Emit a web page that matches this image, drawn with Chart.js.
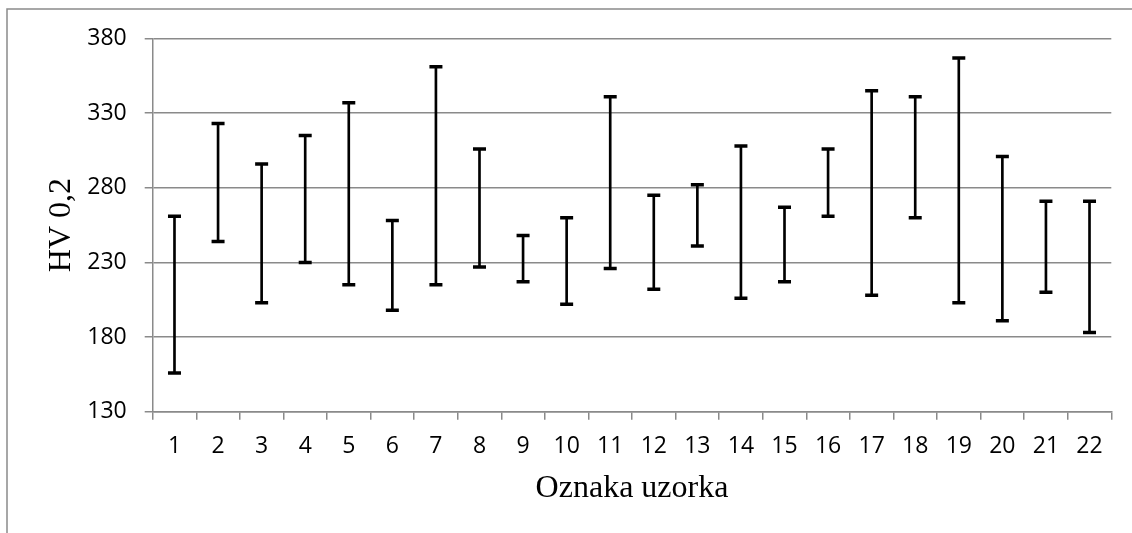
<!DOCTYPE html>
<html>
<head>
<meta charset="utf-8">
<title>HV 0,2</title>
<script src="https://cdn.jsdelivr.net/npm/chart.js@4/dist/chart.umd.min.js"></script>
<style>
    body { margin: 0; background: #fff; }
    #hvChart { display: block; }
</style>
</head>
<body>
<canvas id="hvChart" width="1132" height="533"></canvas>
<script>
// Oznake uzoraka i izmjerene tvrdoće (min / max)
var uzorci = ['1', '2', '3', '4', '5', '6', '7', '8', '9', '10', '11',
    '12', '13', '14', '15', '16', '17', '18', '19', '20', '21', '22'];
var hvMin = [156, 244, 203, 230, 215, 198, 215, 227, 217, 202, 226,
    212, 241, 206, 217, 261, 208, 260, 203, 191, 210, 183];
var hvMax = [261, 323, 296, 315, 337, 258, 361, 306, 248, 260, 341,
    275, 282, 308, 267, 306, 345, 341, 367, 301, 271, 271];
var yTicks = [130, 180, 230, 280, 330, 380];

var sivaLinija = '#8a8a8a';

// Okvir oko cijelog grafikona
var okvirPlugin = {
    id: 'okvir',
    beforeDraw: function (chart) {
        var ctx = chart.ctx;
        ctx.save();
        ctx.strokeStyle = sivaLinija;
        ctx.lineWidth = 1.5;
        ctx.strokeRect(7, 9, 1200, 700);
        ctx.restore();
    }
};

// Raspon min-max kao tanki stupac + kratke crtice na krajevima
var rasponi = hvMin.map(function (v, i) { return [v, hvMax[i]]; });

var hvConfig = {
    type: 'bar',
    data: {
        labels: uzorci,
        datasets: [{
            data: rasponi,
            backgroundColor: '#000',
            borderWidth: 0,
            barThickness: 2
        }, {
            type: 'line',
            data: hvMax,
            showLine: false,
            pointStyle: 'line',
            pointRadius: 6.5,
            pointBorderWidth: 3.5,
            borderColor: '#000'
        }, {
            type: 'line',
            data: hvMin,
            showLine: false,
            pointStyle: 'line',
            pointRadius: 6.5,
            pointBorderWidth: 3.5,
            borderColor: '#000'
        }]
    },
    options: {
        responsive: false,
        animation: false,
        events: [],
        layout: { padding: { left: 0, top: 38.5, right: 20.7, bottom: 0 } },
        plugins: { legend: { display: false }, tooltip: { enabled: false } },
        scales: {
            x: {
                afterFit: function (scale) { scale.height = 533 - 411.7; },
                grid: { offset: true, drawOnChartArea: false, drawTicks: true, tickLength: 8, color: sivaLinija, lineWidth: 1.5 },
                border: { color: sivaLinija, width: 1.5 },
                ticks: { color: '#000', padding: 13, font: { family: 'Open Sans', size: 23 } },
                title: {
                    display: true,
                    text: 'Oznaka uzorka',
                    color: '#000',
                    font: { family: 'Liberation Serif', size: 32 },
                    padding: { top: 0, bottom: 25 }
                }
            },
            y: {
                min: 130,
                max: 380,
                afterFit: function (scale) { scale.width = 152.7; },
                afterBuildTicks: function (scale) {
                    scale.ticks = yTicks.map(function (v) { return { value: v }; });
                },
                grid: { color: sivaLinija, lineWidth: 1.5, tickLength: 8 },
                border: { color: sivaLinija, width: 1.5 },
                ticks: { color: '#000', padding: 18, font: { family: 'Open Sans', size: 23 } },
                title: {
                    display: true,
                    text: 'HV 0,2',
                    color: '#000',
                    font: { family: 'Liberation Serif', size: 32 },
                    padding: { top: 42, bottom: 0 }
                }
            }
        }
    }
};

var hvChart = new Chart(
    document.getElementById('hvChart'),
    { type: hvConfig.type, data: hvConfig.data, options: hvConfig.options, plugins: [okvirPlugin] }
);
</script>
</body>
</html>
